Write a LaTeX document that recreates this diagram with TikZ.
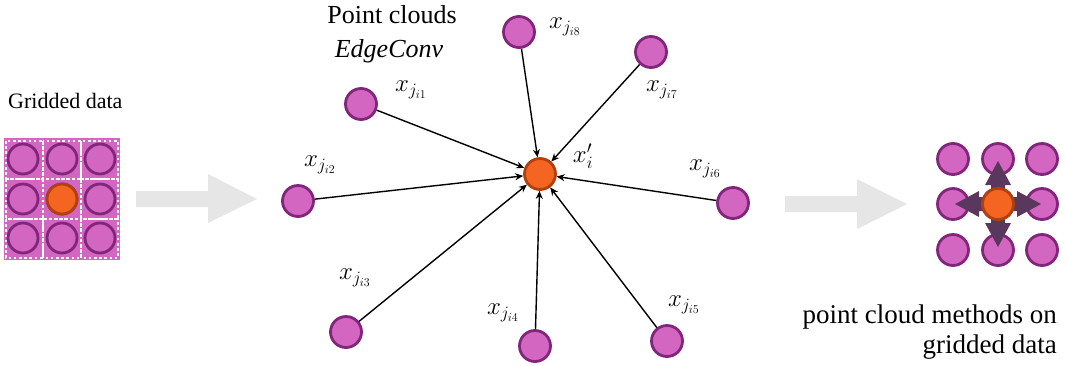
\documentclass[tikz,border=0pt]{standalone}
\usepackage{fontspec}
\setmainfont{Liberation Serif}
\DeclareMathSizes{24}{24}{17}{13}
\usetikzlibrary{arrows.meta}
\definecolor{pinkfill}{RGB}{210,102,192}
\definecolor{pinkline}{RGB}{130,38,124}
\definecolor{orfill}{RGB}{243,101,33}
\definecolor{orline}{RGB}{178,64,14}
\definecolor{grayarrow}{RGB}{230,230,230}
\definecolor{darkarrow}{RGB}{90,56,94}
\tikzset{
  pt/.style={circle, fill=pinkfill, draw=pinkline, line width=2.8pt, minimum size=31pt, inner sep=0pt},
  ctr/.style={circle, fill=orfill, draw=orline, line width=2.8pt, minimum size=31pt, inner sep=0pt},
  edge/.style={line width=1.4pt, -{Stealth[length=8pt,width=7pt]}},
  lab/.style={inner sep=0pt, font=\fontsize{24}{28}\selectfont},
  txt/.style={inner sep=0pt, font=\rmfamily\fontsize{26}{30}\selectfont},
  celledge/.style={draw=white, line width=2.4pt, dash pattern=on 2.6pt off 2.6pt},
}
\begin{document}
\begin{tikzpicture}[x=1pt,y=-1pt]
\useasboundingbox (0,0) rectangle (1065,365);

% ---- left: gridded data ----
\node[txt, anchor=base west, font=\rmfamily\fontsize{22}{26}\selectfont] (gtitle) at (8,108) {Gridded data};
\fill[pinkfill] (4,138) rectangle (120,260);
\foreach \x/\xx in {6/43,43/81,81/118}{
  \foreach \y/\yy in {141/179,179/219,219/258}{
    \draw[celledge] (\x,\y) rectangle (\xx,\yy);
  }
}
\foreach \x [count=\i] in {23,62,100}{
  \foreach \y [count=\j] in {159,199,238}{
    \node[pt, minimum size=30pt] (g\i\j) at (\x,\y) {};
  }
}
\node[ctr, minimum size=30pt] (gc) at (62,199) {};

% ---- gray arrows ----
\fill[grayarrow] (136,191)--(208,191)--(208,174)--(257,199)--(208,223)--(208,207)--(136,207)--cycle;
\fill[grayarrow] (785,196)--(857,196)--(857,179)--(907,204)--(857,229)--(857,212)--(785,212)--cycle;

% ---- middle: point cloud ----
\node[txt, anchor=base] (ptitle) at (392,23) {Point clouds};
\node[txt, anchor=base, font=\rmfamily\itshape\fontsize{26}{30}\selectfont] (etitle) at (389,57) {EdgeConv};

\node[ctr] (c) at (540,174) {};
\node[pt] (n1) at (361,104) {};
\node[pt] (n2) at (298,201) {};
\node[pt] (n3) at (346,332) {};
\node[pt] (n4) at (535,346) {};
\node[pt] (n5) at (667,341) {};
\node[pt] (n6) at (733,203) {};
\node[pt] (n7) at (651,52) {};
\node[pt] (n8) at (519,32) {};

\foreach \n in {n1,n2,n3,n4,n5,n6,n7,n8}{
  \draw[edge] (\n) -- (c);
}

\node[lab] (l8) at (565,27) {$x_{j_{i8}}$};
\node[lab] (l7) at (662,90) {$x_{j_{i7}}$};
\node[lab] (l1) at (411,90) {$x_{j_{i1}}$};
\node[lab] (l2) at (320,165) {$x_{j_{i2}}$};
\node[lab] (l6) at (705,169) {$x_{j_{i6}}$};
\node[lab] (li) at (583,156) {$x_i'$};
\node[lab] (l3) at (355,278) {$x_{j_{i3}}$};
\node[lab] (l4) at (503,313) {$x_{j_{i4}}$};
\node[lab] (l5) at (684,305) {$x_{j_{i5}}$};

% ---- right: point cloud methods on gridded data ----
\foreach \x [count=\i] in {953,998,1042}{
  \foreach \y [count=\j] in {159,204,250}{
    \node[pt] (r\i\j) at (\x,\y) {};
  }
}
\foreach \a in {0,90,180,270}{
  \fill[darkarrow, shift={(998,204)}, rotate=\a]
    (-7,0)--(-7,-19)--(-13,-19)--(0,-43)--(13,-19)--(7,-19)--(7,0)--cycle;
}
\node[ctr] (rc) at (998,204) {};

\node[txt, anchor=base east, font=\rmfamily\fontsize{27}{31}\selectfont] (m1) at (1057,323) {point cloud methods on};
\node[txt, anchor=base east, font=\rmfamily\fontsize{27}{31}\selectfont] (m2) at (1057,353) {gridded data};
\end{tikzpicture}
\end{document}
